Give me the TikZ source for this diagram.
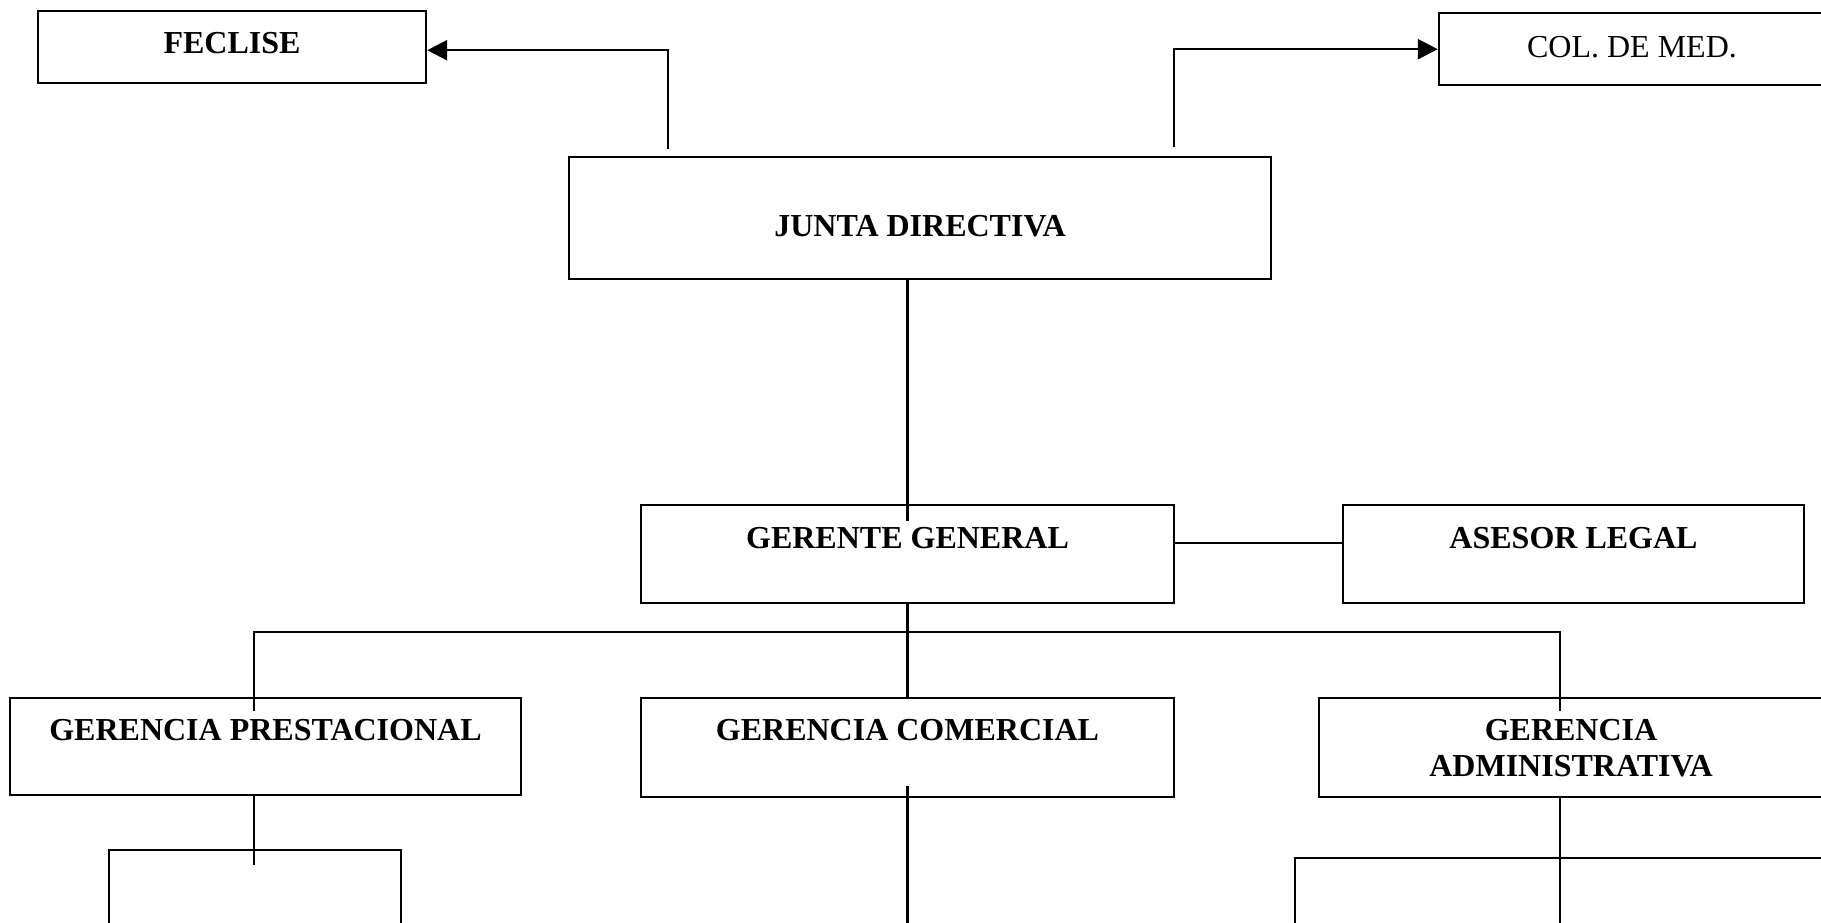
\documentclass[tikz,border=0pt]{standalone}
\usepackage{fontspec}
\setmainfont{Liberation Serif}
\usetikzlibrary{arrows.meta}
\begin{document}
\begin{tikzpicture}[x=1pt,y=-1pt,
  box/.style={draw,line width=2.4pt,inner xsep=0pt,inner ysep=0pt,anchor=north,
    font=\fontsize{32}{38}\selectfont\bfseries},
  plain/.style={font=\fontsize{32}{38}\selectfont},
  emptybox/.style={draw,line width=2.4pt,inner sep=0pt,anchor=north},
  conn/.style={line width=2.4pt},
  arr/.style={conn,-{Triangle[length=20pt,width=20pt]}}]
\useasboundingbox (0,0) rectangle (1821,922);
\fill[white] (0,0) rectangle (1821,922);
\clip (0,0) rectangle (1821,922);

\node[box,minimum width=388pt,text height=42.5pt,text depth=29.5pt] (feclise) at (232,10) {FECLISE};
\node[box,plain,minimum width=386pt,text height=44.5pt,text depth=27.5pt] (col) at (1632,12) {COL. DE MED.};
\node[box,minimum width=702pt,text height=79.5pt,text depth=42.5pt] (junta) at (920,156) {JUNTA DIRECTIVA};
\node[box,minimum width=533pt,text height=43.5pt,text depth=54.5pt] (gerente) at (907.5,504) {GERENTE GENERAL};
\node[box,minimum width=461pt,text height=43.5pt,text depth=54.5pt] (asesor) at (1573.5,504) {ASESOR LEGAL};
\node[box,minimum width=511pt,text height=42.5pt,text depth=54.5pt] (prest) at (265.5,697) {GERENCIA PRESTACIONAL};
\node[box,minimum width=533pt,text height=42.5pt,text depth=56.5pt] (comercial) at (907.5,697) {GERENCIA COMERCIAL};
\node[box,minimum width=504pt,minimum height=99pt,align=center] (admin) at (1571,697) {GERENCIA\\[-2pt]ADMINISTRATIVA};
\node[emptybox,minimum width=292pt,minimum height=150pt] (sub1) at (255,849) {};
\node[emptybox,minimum width=560pt,minimum height=150pt] (sub3) at (1575,857) {};

\coordinate (jl) at (668,149);
\coordinate (jr) at (1174,147);
\coordinate (br) at (1560,632);
\coordinate (cbot) at (907.5,940);

\draw[arr] (jl) |- ([yshift=-3pt]feclise.east);
\draw[arr] (jr) |- (col.west);
\draw[conn] (junta.south -| gerente.north) -- ([yshift=-17pt]gerente.north);
\draw[conn] ([yshift=11pt]gerente.east) -- ([yshift=11pt]asesor.west);
\draw[conn] (gerente.south) -- (comercial.north);
\draw[conn] ([xshift=-11.5pt,yshift=-14pt]prest.north) |- (br) -- ([xshift=-11pt,yshift=-14pt]admin.north);
\draw[conn] ([xshift=-11.5pt]prest.south) -- ([xshift=-1pt,yshift=-16pt]sub1.north);
\draw[conn] ([yshift=12pt]comercial.south) -- (cbot);
\draw[conn] ([xshift=-11pt]admin.south) -- ([xshift=-15pt,yshift=-100pt]sub3.north);
\end{tikzpicture}
\end{document}
